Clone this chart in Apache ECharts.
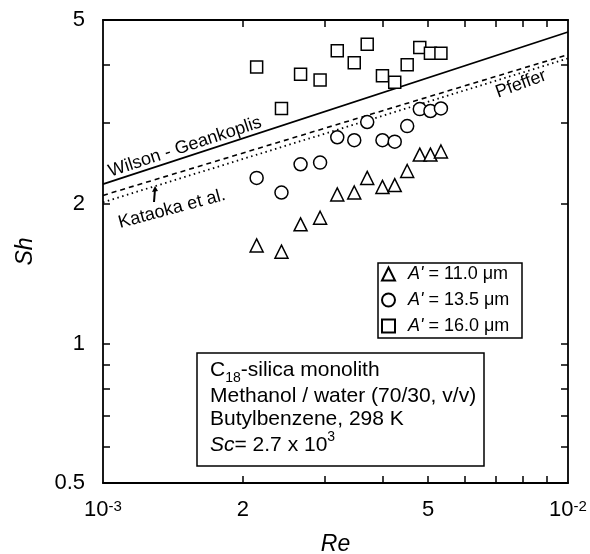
<!DOCTYPE html>
<html>
<head>
<meta charset="utf-8">
<script src="https://cdn.jsdelivr.net/npm/echarts@6/dist/echarts.min.js"></script>
<style>
  html, body { margin: 0; padding: 0; background: #fff; }
  #graph { width: 590px; height: 554px; }
</style>
</head>
<body>
<div id="graph"></div>
<script>
/* Re values (x 10^-3), same columns for all three series */
var re = [2.14, 2.42, 2.66, 2.93, 3.19, 3.47, 3.70, 3.99, 4.24, 4.51, 4.80, 5.06, 5.33];
var sh110 = [1.63, 1.58, 1.81, 1.87, 2.10, 2.12, 2.28, 2.18, 2.20, 2.36, 2.56, 2.56, 2.60]; // A' = 11.0
var sh135 = [2.28, 2.12, 2.44, 2.46, 2.79, 2.75, 3.01, 2.75, 2.73, 2.95, 3.21, 3.18, 3.22]; // A' = 13.5
var sh160 = [3.96, 3.22, 3.82, 3.71, 4.29, 4.04, 4.43, 3.79, 3.67, 4.00, 4.36, 4.24, 4.24]; // A' = 16.0

/* correlations: Sh at Re = 10^-3 and 10^-2 */
var lineRe = [0.001, 0.01];
var wilson = [2.21, 4.71];
var pfeffer = [2.09, 4.21];
var kataoka = [2.02, 4.13];

var xTicks = [0.002, 0.003, 0.004, 0.005, 0.006, 0.007, 0.008, 0.009];
var xLabels = [0.001, 0.002, 0.005, 0.01];
var yTicks = [0.6, 0.7, 0.8, 0.9, 1, 2, 3, 4];
var yLabels = [0.5, 1, 2, 5];

var FONT = '"Liberation Sans", Arial, sans-serif';

function pairs(xs, ys, k) {
  var out = [];
  for (var i in xs) {
    out[i] = [xs[i] * k, ys[i]];
  }
  return out;
}

function xFmt(v) {
  var e = Math.round(Math.log(v) / Math.LN10 * 1000) / 1000;
  if (Math.abs(e - Math.round(e)) < 1e-6) {
    return '{b|10}{s|' + Math.round(e) + '}';
  }
  return '' + Math.round(v * 1000);
}

function yFmt(v) {
  return '' + parseFloat(v.toPrecision(3));
}

var axisLine = { lineStyle: { color: '#000', width: 1.8 } };

function xAxis(pos, show) {
  return {
    type: 'log',
    logBase: 10,
    position: pos,
    min: 0.001,
    max: 0.01,
    name: show ? 'Re' : '',
    nameLocation: 'middle',
    nameGap: 50,
    nameTextStyle: { fontFamily: FONT, fontSize: 23, fontStyle: 'italic', color: '#000' },
    axisLine: axisLine,
    axisTick: { show: true, inside: true, length: 7, customValues: xTicks, lineStyle: { color: '#000', width: 1.5 } },
    axisLabel: {
      show: show,
      customValues: xLabels,
      margin: 16,
      formatter: xFmt,
      color: '#000',
      fontFamily: FONT,
      fontSize: 22,
      rich: {
        b: { fontFamily: FONT, fontSize: 22, color: '#000', verticalAlign: 'top', lineHeight: 25 },
        s: { fontFamily: FONT, fontSize: 15, color: '#000', verticalAlign: 'top', lineHeight: 15 }
      }
    },
    splitLine: { show: false },
    minorTick: { show: false }
  };
}

function yAxis(pos, show) {
  return {
    type: 'log',
    logBase: 10,
    position: pos,
    min: 0.5,
    max: 5,
    name: show ? 'Sh' : '',
    nameLocation: 'middle',
    nameGap: 66,
    nameRotate: 90,
    nameTextStyle: { fontFamily: FONT, fontSize: 23, fontStyle: 'italic', color: '#000' },
    axisLine: axisLine,
    axisTick: { show: true, inside: true, length: 7, customValues: yTicks, lineStyle: { color: '#000', width: 1.5 } },
    axisLabel: {
      show: show,
      customValues: yLabels,
      margin: 18,
      formatter: yFmt,
      color: '#000',
      fontFamily: FONT,
      fontSize: 22
    },
    splitLine: { show: false },
    minorTick: { show: false }
  };
}

function scatter(name, sym, size, ys) {
  return {
    name: name,
    type: 'scatter',
    symbol: sym,
    symbolSize: size,
    data: pairs(re, ys, 0.001),
    itemStyle: { color: '#fff', borderColor: '#000', borderWidth: 1.5, opacity: 1 },
    z: 5
  };
}

function corr(vals, type, width) {
  return {
    type: 'line',
    data: pairs(lineRe, vals, 1),
    symbol: 'none',
    silent: true,
    lineStyle: { color: '#000', width: width, type: type },
    z: 3
  };
}

var names = ["A' = 11.0 μm", "A' = 13.5 μm", "A' = 16.0 μm"];

var chart = echarts.init(document.getElementById('graph'));
var option = {
  animation: false,
  backgroundColor: '#fff',
  grid: { left: 103, right: 22, top: 20, bottom: 71, containLabel: false, outerBoundsMode: 'none' },
  xAxis: [xAxis('bottom', true), xAxis('top', false)],
  yAxis: [yAxis('left', true), yAxis('right', false)],
  legend: {
    orient: 'vertical',
    left: 381,
    top: 265,
    itemWidth: 13,
    itemHeight: 13,
    itemGap: 8,
    padding: 0,
    data: names,
    formatter: function (n) {
      return '{i|A\'}{n|' + n.slice(2) + '}';
    },
    textStyle: {
      fontFamily: FONT,
      fontSize: 18,
      color: '#000',
      rich: {
        i: { fontFamily: FONT, fontSize: 18, fontStyle: 'italic', color: '#000', padding: [0, 0, 0, 8] },
        n: { fontFamily: FONT, fontSize: 18, color: '#000' }
      }
    }
  },
  series: [
    corr(wilson, 'solid', 1.8),
    corr(pfeffer, [5, 4], 1.6),
    corr(kataoka, [1.5, 3.5], 1.8),
    scatter(names[0], 'triangle', 13, sh110),
    scatter(names[1], 'circle', 13, sh135),
    scatter(names[2], 'rect', 12, sh160)
  ],
  graphic: [
    /* legend frame */
    { type: 'rect', shape: { x: 378, y: 263, width: 144, height: 75 },
      style: { fill: 'none', stroke: '#000', lineWidth: 1.5 }, z: 10 },
    /* conditions box */
    { type: 'rect', shape: { x: 197, y: 353, width: 287, height: 113 },
      style: { fill: 'none', stroke: '#000', lineWidth: 1.5 }, z: 10 },
    { type: 'text', left: 210, top: 360, z: 10,
      style: {
        text: '{n|C}{sub|18}{n|-silica monolith}',
        rich: {
          n: { fontFamily: FONT, fontSize: 21, fill: '#000', verticalAlign: 'top', lineHeight: 24 },
          sub: { fontFamily: FONT, fontSize: 14, fill: '#000', verticalAlign: 'top', lineHeight: 14, padding: [11, 0, 0, 0] }
        }
      } },
    { type: 'text', left: 210, top: 386, z: 10,
      style: { text: 'Methanol / water (70/30, v/v)', font: '21px ' + FONT, fill: '#000' } },
    { type: 'text', left: 210, top: 409, z: 10,
      style: { text: 'Butylbenzene, 298 K', font: '21px ' + FONT, fill: '#000' } },
    { type: 'text', left: 210, top: 430, z: 10,
      style: {
        text: '{i|Sc}{n|= 2.7 x 10}{s|3}',
        rich: {
          i: { fontFamily: FONT, fontSize: 21, fontStyle: 'italic', fill: '#000', verticalAlign: 'bottom', lineHeight: 26 },
          n: { fontFamily: FONT, fontSize: 21, fill: '#000', verticalAlign: 'bottom', lineHeight: 26 },
          s: { fontFamily: FONT, fontSize: 14, fill: '#000', verticalAlign: 'top', lineHeight: 14 }
        }
      } },
    /* curve labels */
    { type: 'text', x: 185, y: 147, rotation: 18.2 * Math.PI / 180, z: 10,
      style: { text: 'Wilson - Geankoplis', font: '18px ' + FONT, fill: '#000', align: 'center', verticalAlign: 'middle' } },
    { type: 'text', x: 521, y: 84, rotation: 20 * Math.PI / 180, z: 10,
      style: { text: 'Pfeffer', font: '18px ' + FONT, fill: '#000', align: 'center', verticalAlign: 'middle' } },
    { type: 'text', x: 172, y: 209, rotation: 15 * Math.PI / 180, z: 10,
      style: { text: 'Kataoka et al.', font: '18px ' + FONT, fill: '#000', align: 'center', verticalAlign: 'middle' } },
    { type: 'polyline', z: 10, shape: { points: [[154, 202], [155, 189]] },
      style: { stroke: '#000', lineWidth: 2 } },
    { type: 'polygon', z: 10, shape: { points: [[152, 192], [158, 191], [155, 186]] },
      style: { fill: '#000' } }
  ]
};
chart.setOption(option);
</script>
</body>
</html>
